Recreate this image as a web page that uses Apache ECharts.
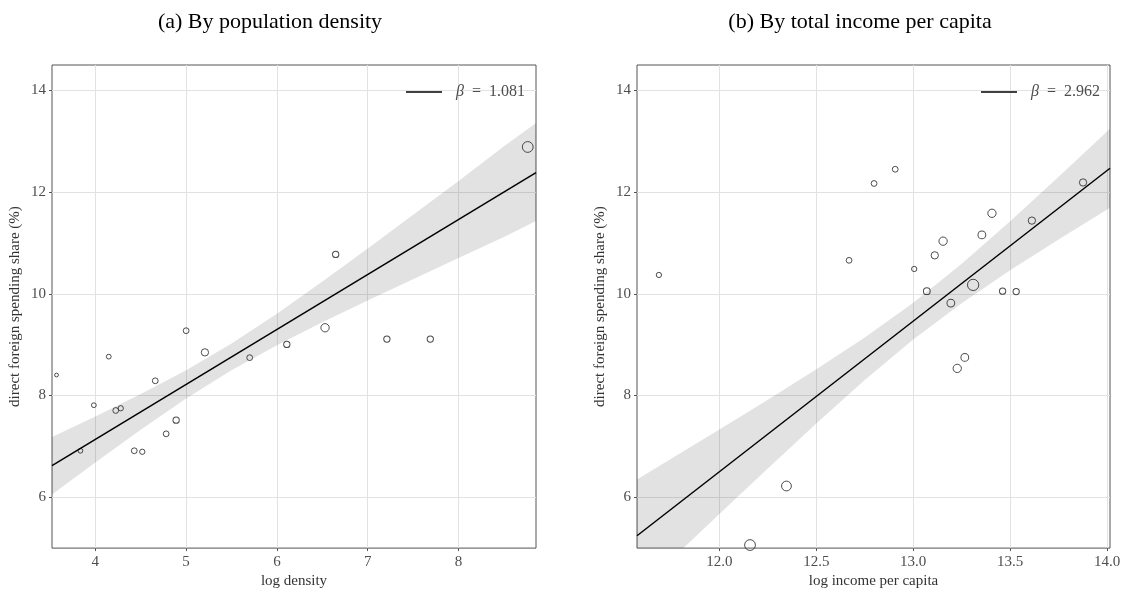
<!DOCTYPE html>
<html>
<head>
<meta charset="utf-8">
<script src="https://cdn.jsdelivr.net/npm/echarts@6/dist/echarts.min.js"></script>
<style>html,body{margin:0;padding:0;background:#fff}#c{width:1125px;height:594px}</style>
</head>
<body>
<div id="c"></div>
<script>
// ---- Panel (a): by population density ----
const densityX = [3.573, 3.836, 3.984, 4.148, 4.225, 4.28, 4.429, 4.517, 4.66, 4.78, 4.89, 5.0, 5.207, 5.70, 6.109, 6.53, 6.647, 7.211, 7.689, 8.762];
const densityShare = [8.404, 6.914, 7.81, 8.765, 7.706, 7.75, 6.914, 6.894, 8.29, 7.247, 7.516, 9.275, 8.849, 8.745, 9.006, 9.333, 10.776, 9.11, 9.11, 12.888];
const densityWeight = [1, 2, 2, 2, 3, 2.5, 3, 2.5, 3, 3, 3.5, 3, 4.5, 3, 3.5, 5.5, 3.5, 3.5, 3.5, 8];
const densityFitX = [3.523, 8.853];
const densityFitY = [6.621, 12.383];
const densityBandX = [3.523, 4.0, 4.5, 5.0, 5.5, 6.0, 6.5, 7.0, 7.5, 8.0, 8.5, 8.853];
const densityBandLo = [6.056, 6.685, 7.327, 7.94, 8.497, 8.989, 9.439, 9.869, 10.289, 10.704, 11.117, 11.43];
const densityBandHi = [7.186, 7.589, 8.029, 8.496, 9.021, 9.609, 10.241, 10.891, 11.553, 12.218, 12.9, 13.36];
const densityTicks = [4, 5, 6, 7, 8];
const densityBeta = '1.081';

// ---- Panel (b): by total income per capita ----
const incomeX = [11.688, 12.158, 12.346, 12.669, 12.798, 12.907, 13.005, 13.07, 13.111, 13.154, 13.194, 13.227, 13.266, 13.309, 13.354, 13.406, 13.461, 13.531, 13.612, 13.876];
const incomeShare = [10.371, 5.06, 6.221, 10.659, 12.17, 12.45, 10.489, 10.053, 10.757, 11.036, 9.818, 8.534, 8.749, 10.176, 11.159, 11.584, 10.053, 10.045, 11.44, 12.19];
const incomeWeight = [2.5, 8, 7, 3, 3, 3, 2.5, 4, 4.5, 5.5, 5, 5.5, 5, 8.5, 5, 5.5, 3.5, 3.5, 4.5, 4.5];
const incomeFitX = [11.575, 14.015];
const incomeFitY = [5.243, 12.47];
const incomeBandX = [11.575, 11.8, 12.0, 12.25, 12.5, 12.75, 13.0, 13.25, 13.5, 13.75, 14.015];
const incomeBandLo = [4.136, 4.948, 5.671, 6.567, 7.45, 8.304, 9.102, 9.817, 10.462, 11.07, 11.693];
const incomeBandHi = [6.35, 6.87, 7.333, 7.917, 8.516, 9.142, 9.826, 10.593, 11.428, 12.302, 13.247];
const incomeTicks = [12.0, 12.5, 13.0, 13.5, 14.0];
const incomeBeta = '2.962';

const shareTicks = [6, 8, 10, 12, 14];
const panelTitles = ['(a) By population density', '(b) By total income per capita'];
const xNames = ['log density', 'log income per capita'];
const yName = 'direct foreign spending share (%)';

// ---- build ----
const FONT = 'Liberation Serif';
const TICK_COLOR = '#4d4d4d';
const panels = [
  {xs: densityX, ys: densityShare, ws: densityWeight, fx: densityFitX, fy: densityFitY,
   bx: densityBandX, lo: densityBandLo, hi: densityBandHi, ticks: densityTicks, beta: densityBeta,
   xmin: 3.523, xmax: 8.853, digits: 0},
  {xs: incomeX, ys: incomeShare, ws: incomeWeight, fx: incomeFitX, fy: incomeFitY,
   bx: incomeBandX, lo: incomeBandLo, hi: incomeBandHi, ticks: incomeTicks, beta: incomeBeta,
   xmin: 11.575, xmax: 14.015, digits: 1}
];
const grids = [
  {left: 52, top: 65, width: 484, height: 486},
  {left: 637, top: 65, width: 473, height: 486}
];
const legendPos = [{left: 401, top: 79}, {left: 976, top: 79}];
const titleCenters = [265, 855];

const xAxes = [], yAxes = [], series = [], legends = [], titles = [];
panels.forEach((p, i) => {
  xAxes.push({
    gridIndex: i, type: 'value', min: p.xmin, max: p.xmax, splitNumber: 5,
    axisLine: {show: false},
    axisTick: {show: true, length: 3, lineStyle: {color: '#555'}, customValues: p.ticks},
    axisLabel: {customValues: p.ticks, margin: 6, fontFamily: FONT, fontSize: 15, color: TICK_COLOR,
                formatter: v => Number(v).toFixed(p.digits)},
    splitLine: {show: true, lineStyle: {color: '#e2e2e2', width: 1}},
    name: xNames[i], nameLocation: 'middle', nameGap: 21,
    nameTextStyle: {fontFamily: FONT, fontSize: 15, color: '#333'}
  });
  yAxes.push({
    gridIndex: i, type: 'value', min: 5, max: 14.5, splitNumber: 5,
    axisLine: {show: false},
    axisTick: {show: true, length: 3, lineStyle: {color: '#555'}, customValues: shareTicks},
    axisLabel: {customValues: shareTicks, margin: 6, fontFamily: FONT, fontSize: 15, color: TICK_COLOR},
    splitLine: {show: true, lineStyle: {color: '#e2e2e2', width: 1}},
    name: yName, nameLocation: 'middle', nameGap: 29, nameRotate: 90,
    nameTextStyle: {fontFamily: FONT, fontSize: 15, color: '#333'}
  });
  // confidence band as a polygon through the axis scales, clipped to the grid
  series.push({
    type: 'custom', xAxisIndex: i, yAxisIndex: i, z: 1, silent: true,
    data: [[p.bx[0], p.lo[0]]],
    renderItem: (params, api) => {
      const up = p.bx.map((x, k) => api.coord([x, p.hi[k]]));
      const dn = p.bx.map((x, k) => api.coord([x, p.lo[k]])).reverse();
      const cs = params.coordSys;
      return {
        type: 'polygon',
        shape: {points: up.concat(dn)},
        style: {fill: 'rgba(0,0,0,0.115)'},
        clipPath: {type: 'rect', shape: {x: cs.x, y: cs.y, width: cs.width, height: cs.height}}
      };
    }
  });
  series.push({
    type: 'scatter', xAxisIndex: i, yAxisIndex: i, z: 3,
    symbol: 'circle', symbolSize: v => 2.8 + v[2],
    itemStyle: {color: 'rgba(255,255,255,0)', borderColor: '#222', borderWidth: 1},
    data: p.xs.map((x, k) => [x, p.ys[k], p.ws[k]])
  });
  const nm = 'β = ' + p.beta;
  series.push({
    type: 'line', name: nm, xAxisIndex: i, yAxisIndex: i, z: 4, symbol: 'none',
    lineStyle: {color: '#000', width: 1.5}, itemStyle: {color: '#000'},
    data: p.fx.map((x, k) => [x, p.fy[k]])
  });
  legends.push({
    data: [nm], left: legendPos[i].left, top: legendPos[i].top, icon: 'rect',
    itemWidth: 36, itemHeight: 1.6, selectedMode: false,
    formatter: () => '{i|β}  =  ' + p.beta,
    textStyle: {fontFamily: FONT, fontSize: 16, color: TICK_COLOR, padding: [0, 0, 0, 9],
                rich: {i: {fontFamily: FONT, fontSize: 16, fontStyle: 'italic', color: TICK_COLOR}}}
  });
  titles.push({
    text: panelTitles[i], left: titleCenters[i], top: 6, textAlign: 'center',
    textStyle: {fontFamily: FONT, fontSize: 22, fontWeight: 'normal', color: '#000'}
  });
});

const chart = echarts.init(document.getElementById('c'), null, {renderer: 'canvas'});
chart.setOption({
  animation: false,
  backgroundColor: '#fff',
  title: titles,
  legend: legends,
  grid: grids.map(g => Object.assign({show: true, borderColor: '#555', borderWidth: 1, backgroundColor: 'transparent'}, g)),
  xAxis: xAxes,
  yAxis: yAxes,
  series: series
});
</script>
</body>
</html>
